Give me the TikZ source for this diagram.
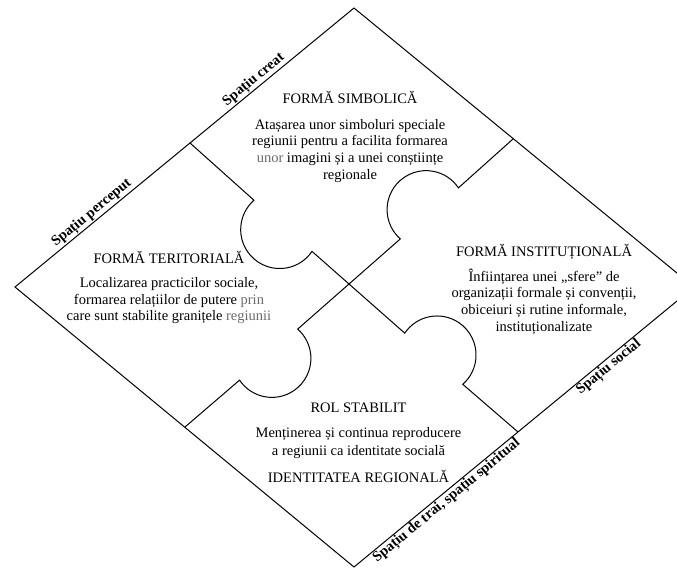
\documentclass[tikz,border=0pt]{standalone}
\usepackage{fontspec}
\setmainfont{Liberation Serif}
\usetikzlibrary{calc}
\definecolor{lightword}{gray}{0.42}
\tikzset{
  txt/.style={anchor=base, inner sep=0pt, font=\fontsize{14.5}{16.7}\selectfont},
  edgelbl/.style={sloped, inner sep=1pt, font=\fontsize{14.5}{16.7}\selectfont\bfseries},
  outline/.style={draw=black, line width=1pt, line join=miter},
  seam/.style={draw=black, line width=1pt, line join=miter}
}
\begin{document}
\begin{tikzpicture}[x=1pt,y=1pt]
\useasboundingbox (0,0) rectangle (677,-568);
% rhombus corners
\coordinate (T) at (354,-8);
\coordinate (R) at (694,-287);
\coordinate (B) at (354,-567);
\coordinate (L) at (15,-287);
% seam crossing and seam ends
\coordinate (X) at (349,-284);
\coordinate (L1a) at (190,-143);
\coordinate (L1b) at (518,-432);
\coordinate (L2a) at (185,-427);
\coordinate (L2b) at (513,-139);
\begin{scope}
\clip (0,0) rectangle (677,-568);
\path[outline] (T) -- (R) -- (B) -- (L) -- cycle;
% seam from upper-left to lower-right with two knobs
\path[seam] (L1a) -- ($(X)+(138.6:126.68pt)$)
  arc[start angle=131.23, end angle=325.97, radius=39pt] -- (X)
  -- ($(X)+(-41.4:74.32pt)$)
  arc[start angle=145.97, end angle=-48.77, radius=39pt] -- (L1b);
% seam from lower-left to upper-right with two knobs
\path[seam] (L2a) -- ($(X)+(221.3:145.68pt)$)
  arc[start angle=213.93, end angle=408.67, radius=39pt] -- (X)
  -- ($(X)+(41.3:68.32pt)$)
  arc[start angle=228.67, end angle=33.93, radius=39pt] -- (L2b);
\end{scope}
% edge labels
\path (L) -- (T)
  node[edgelbl, pos=0.242, above] (lp) {Spațiu perceput}
  node[edgelbl, pos=0.72, above] (lc) {Spațiu creat};
\path (B) -- (R)
  node[edgelbl, pos=0.258, below] (lt) {Spațiu de trai, spațiu spiritual}
  node[edgelbl, pos=0.735, below] (ls) {Spațiu social};
% top piece
\node[txt] (s0) at (350,-103) {FORMĂ SIMBOLICĂ};
\node[txt] (s1) at (350,-129) {Atașarea unor simboluri speciale};
\node[txt] (s2) at (350,-145.7) {regiunii pentru a facilita formarea};
\node[txt] (s3) at (350,-162.4) {\textcolor{lightword}{unor} imagini și a unei conștiințe};
\node[txt] (s4) at (350,-179) {regionale};
% left piece
\node[txt] (t0) at (169,-263) {FORMĂ TERITORIALĂ};
\node[txt] (t1) at (169,-287.5) {Localizarea practicilor sociale,};
\node[txt] (t2) at (169,-304.2) {formarea relațiilor de putere \textcolor{lightword}{prin}};
\node[txt] (t3) at (169,-320.9) {care sunt stabilite granițele \textcolor{lightword}{regiunii}};
% right piece
\node[txt] (i0) at (544,-256) {FORMĂ INSTITUȚIONALĂ};
\node[txt] (i1) at (544,-281) {Înființarea unei „sfere” de};
\node[txt] (i2) at (544,-297.8) {organizații formale și convenții,};
\node[txt] (i3) at (544,-314.6) {obiceiuri și rutine informale,};
\node[txt] (i4) at (544,-331.4) {instituționalizate};
% bottom piece
\node[txt] (r0) at (358.5,-412) {ROL STABILIT};
\node[txt] (r1) at (358.5,-437.5) {Menținerea și continua reproducere};
\node[txt] (r2) at (358.5,-455) {a regiunii ca identitate socială};
\node[txt] (r3) at (358.5,-482) {IDENTITATEA REGIONALĂ};
\end{tikzpicture}
\end{document}
